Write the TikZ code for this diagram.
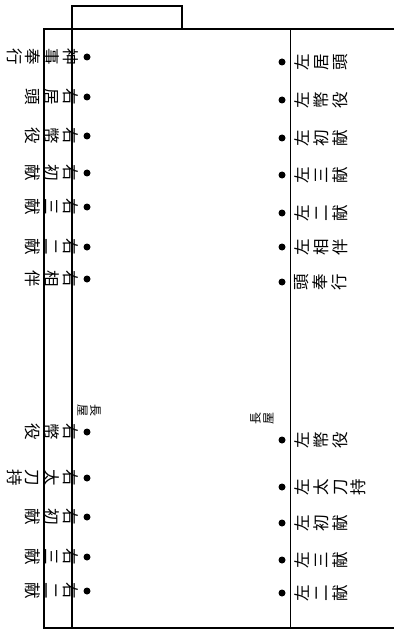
\documentclass[tikz,border=0pt]{standalone}
\usepackage{fontspec}
\usepackage{tikz}
\newfontfamily\jfont{Noto Sans CJK JP}

\begin{document}
\begin{tikzpicture}[x=1pt, y=-1pt, line width=1.2pt,
    seat/.style={circle, fill=black, inner sep=0pt, minimum size=7pt},
    yaku/.style={inner sep=0pt, align=center, anchor=north, font=\jfont\fontsize{16.5}{18.8}\selectfont},
    migi/.style={yaku, rotate=-90},
    hidari/.style={yaku, rotate=90},
    nagaya/.style={inner sep=0pt, align=center, font=\jfont\fontsize{12}{13}\selectfont}]
  \useasboundingbox (0,0) rectangle (394,631);
  % frame
  \draw (72,628) -- (72,6) -- (182,6) -- (182,29);
  \draw (394,29) -- (44,29) -- (44,628) -- (394,628);
  \draw[line width=0.8pt] (290,29) -- (290,628);
  % right side seats (text read from the right)
  \foreach \y/\txt [count=\i] in {57/神\\事\\奉\\行, 97/右\\居\\頭, 136/右\\幣\\役, 173/右\\初\\献,
      207/右\\三\\献, 247/右\\二\\献, 279/右\\相\\伴, 432/右\\幣\\役, 478/右\\太\\刀\\持,
      517/右\\初\\献, 557/右\\三\\献, 591/右\\二\\献}{
    \node[seat] (rs\i) at (87,\y) {};
    \node[migi] (r\i) at (79,\y) {\txt};
  }
  % left side seats
  \foreach \y/\txt [count=\i] in {62/左\\居\\頭, 100/左\\幣\\役, 138/左\\初\\献, 175/左\\三\\献,
      213/左\\二\\献, 247/左\\相\\伴, 282/頭\\奉\\行, 440/左\\幣\\役, 487/左\\太\\刀\\持,
      523/左\\初\\献, 560/左\\三\\献, 593/左\\二\\献}{
    \node[seat] (ls\i) at (282,\y) {};
    \node[hidari] (l\i) at (294,\y) {\txt};
  }
  \node[nagaya, rotate=-90] (rnagaya) at (89,410) {長\\屋};
  \node[nagaya, rotate=90] (lnagaya) at (262,418) {長\\屋};
\end{tikzpicture}
\end{document}
